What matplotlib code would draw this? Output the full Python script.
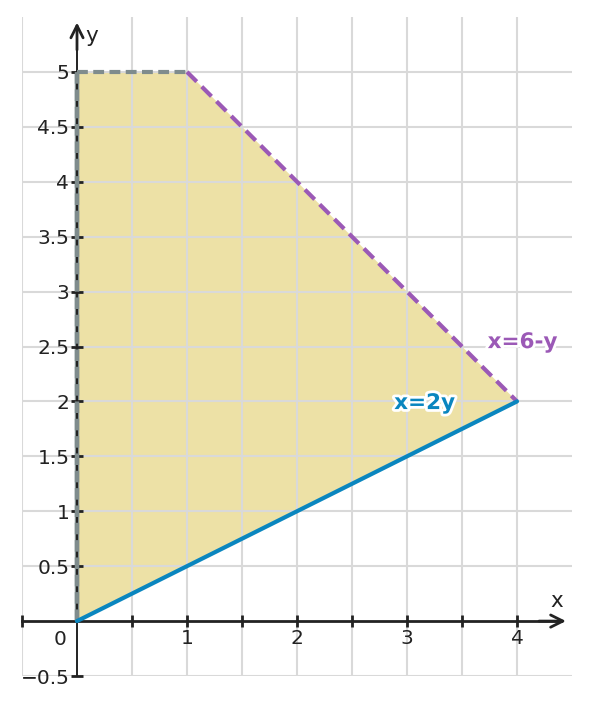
import matplotlib
matplotlib.use("Agg")
import matplotlib.pyplot as plt
import matplotlib.patheffects as pe
import numpy as np

# region vertices
region_x = [0, 4, 1, 0]
region_y = [0, 2, 5, 5]
# boundary lines
line_2y_x = [0, 4]
line_2y_y = [0, 2]
line_6y_x = [1, 4]
line_6y_y = [5, 2]
gray_top_x = [0, 1]
gray_top_y = [5, 5]
gray_left_x = [0, 0]
gray_left_y = [0, 5]

xtick_major = [1, 2, 3, 4]
xtick_labels = ["1", "2", "3", "4"]
xtick_minor = [-0.5, 0.5, 1.5, 2.5, 3.5]
ytick_major = [-0.5, 0.5, 1, 1.5, 2, 2.5, 3, 3.5, 4, 4.5, 5]
ytick_labels = ["\u22120.5", "0.5", "1", "1.5", "2", "2.5", "3", "3.5", "4", "4.5", "5"]

fill_c = "#ede1a6"
purple = "#9b59b6"
blue = "#0a86bf"
gray = "#7f8c8d"
axc = "#222222"

fig = plt.figure(figsize=(5.89, 7.05), dpi=100)
ax = fig.add_axes([22/589, 1-676/705, (572-22)/589, (676-17)/705])
ax.set_xlim(-0.5, 4.5)
ax.set_ylim(-0.5, 5.5)
ax.set_axisbelow("line")

ax.fill(region_x, region_y, color=fill_c, lw=0, zorder=1)

ax.set_xticks(xtick_major)
ax.set_xticklabels(xtick_labels)
ax.set_xticks(xtick_minor, minor=True)
ax.set_yticks(ytick_major)
ax.set_yticklabels(ytick_labels)
ax.grid(True, which="both", color="#d9d9d9", lw=1.5)

for s in ["top", "right"]:
    ax.spines[s].set_visible(False)
ax.spines["left"].set_position(("data", 0))
ax.spines["bottom"].set_position(("data", 0))
ax.spines["left"].set_bounds(-0.5, 5.4)
ax.spines["bottom"].set_bounds(-0.5, 4.4)
ax.spines["left"].set_linewidth(1.4)
ax.spines["bottom"].set_linewidth(2)
for s in ["left", "bottom"]:
    ax.spines[s].set_color(axc)
    ax.spines[s].set_zorder(1.6)

ax.tick_params(which="both", direction="inout", length=9, width=2, color=axc,
               labelsize=14.5, labelcolor=axc)
ax.tick_params(axis="x", pad=1)
ax.tick_params(axis="y", pad=1)

ax.annotate("", xy=(4.445, 0), xytext=(4.2, 0),
            arrowprops=dict(arrowstyle="->", lw=2, color=axc, mutation_scale=22,
                            shrinkA=0, shrinkB=0), zorder=3)
ax.annotate("", xy=(0, 5.45), xytext=(0, 5.2),
            arrowprops=dict(arrowstyle="->", lw=2, color=axc, mutation_scale=22,
                            shrinkA=0, shrinkB=0), zorder=3)

ax.text(-0.155, -0.17, "0", fontsize=14.5, color=axc, ha="center", va="center")
ax.text(4.36, 0.18, "x", fontsize=15.5, color=axc, ha="center", va="center")
ax.text(0.13, 5.33, "y", fontsize=15.5, color=axc, ha="center", va="center")

# gray band under the y axis, then dashed gray on top
ax.plot(gray_left_x, gray_left_y, color=gray, lw=3.2, zorder=1.2, solid_capstyle="butt")
ax.plot(gray_top_x, gray_top_y, color=gray, lw=3, dashes=(2.6, 1.3), zorder=2)
ax.plot(gray_left_x, gray_left_y, color=gray, lw=3.2, dashes=(2.6, 1.3), zorder=2)
ax.plot(line_6y_x, line_6y_y, color=purple, lw=3, dashes=(3.3, 1.7), zorder=2.2)
ax.plot(line_2y_x, line_2y_y, color=blue, lw=3, zorder=2.3, solid_capstyle="round")

stroke = [pe.withStroke(linewidth=4, foreground="white")]
ax.text(4.05, 2.54, "x=6-y", fontsize=15.5, fontweight="bold", color=purple,
        ha="center", va="center", path_effects=stroke, zorder=4)
ax.text(3.16, 1.985, "x=2y", fontsize=15.5, fontweight="bold", color=blue,
        ha="center", va="center", path_effects=stroke, zorder=4)

fig.savefig("out.png", dpi=100)
